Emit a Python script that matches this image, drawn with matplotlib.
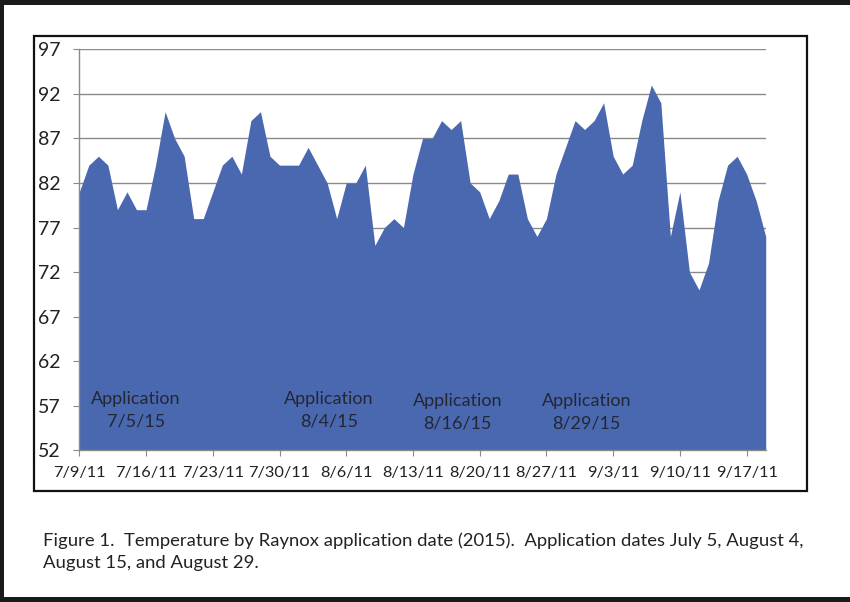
import matplotlib
matplotlib.use("Agg")
import matplotlib.pyplot as plt
from matplotlib.patches import Rectangle

# ---- data ----
temps = [81, 84, 85, 84, 79, 81, 79, 79, 84, 90,
         87, 85, 78, 78, 81, 84, 85, 83, 89, 90,
         85, 84, 84, 84, 86, 84, 82, 78, 82, 82,
         84, 75, 77, 78, 77, 83, 87, 87, 89, 88,
         89, 82, 81, 78, 80, 83, 83, 78, 76, 78,
         83, 86, 89, 88, 89, 91, 85, 83, 84, 89,
         93, 91, 76, 81, 72, 70, 73, 80, 84, 85,
         83, 80, 76]
tick_labels = ["7/9/11", "7/16/11", "7/23/11", "7/30/11", "8/6/11", "8/13/11",
               "8/20/11", "8/27/11", "9/3/11", "9/10/11", "9/17/11"]
y_ticks = [52, 57, 62, 67, 72, 77, 82, 87, 92, 97]
annotations = ["Application\n7/5/15", "Application\n8/4/15",
               "Application\n8/16/15", "Application\n8/29/15"]
annot_x = [5.95, 26.2, 39.7, 53.2]
annot_y = [56.5, 56.55, 56.3, 56.3]
caption = ("Figure 1.  Temperature by Raynox application date (2015).  Application dates July 5, August 4,\n"
           "August 15, and August 29.")

W, H = 850, 602
fig = plt.figure(figsize=(W / 100, H / 100), dpi=100)
plt.rcParams['font.family'] = ['Lato', 'DejaVu Sans']

def fx(px):
    return px / W

def fy(py):
    return 1 - py / H

left, right, top, bottom = 79.3, 765.7, 49.3, 450.3
ax = fig.add_axes([fx(left), fy(bottom), fx(right - left), (bottom - top) / H])

days = list(range(len(temps)))
ax.fill_between(days, 52, temps, color="#4A68B0", linewidth=0, zorder=2)
ax.set_xlim(0, len(temps) - 1)
ax.set_ylim(52, 97)
ax.set_yticks(y_ticks)
ax.set_yticklabels([str(v) for v in y_ticks])
ax.set_xticks(list(range(0, 7 * len(tick_labels), 7)))
ax.set_xticklabels(tick_labels)

gray = "#8a8a8a"
ax.set_axisbelow(True)
ax.grid(axis="y", color=gray, linewidth=1.0)
ax.grid(axis="x", visible=False)
for s in ["top", "right"]:
    ax.spines[s].set_visible(False)
for s in ["left", "bottom"]:
    ax.spines[s].set_color(gray)
    ax.spines[s].set_linewidth(1.0)
ax.tick_params(axis="y", length=4.5, color=gray, labelsize=14, pad=9, labelcolor="#222222")
ax.tick_params(axis="x", length=4.5, color=gray, labelsize=11.8, pad=7, labelcolor="#222222")

for t, x, y in zip(annotations, annot_x, annot_y):
    ax.text(x, y, t, ha="center", va="center", fontsize=13, color="#232733",
            linespacing=1.5, zorder=3)

# chart frame
fig.patches.append(Rectangle((fx(34), fy(491)), fx(806.7 - 34), (491 - 35.7) / H,
                             transform=fig.transFigure, fill=False,
                             edgecolor="#111111", linewidth=1.6))
# outer page borders
fig.patches.append(Rectangle((0, fy(5)), 1, 5 / H, transform=fig.transFigure,
                             color="#1a1a1a", linewidth=0))
fig.patches.append(Rectangle((0, 0), fx(4), 1, transform=fig.transFigure,
                             color="#1a1a1a", linewidth=0))
fig.patches.append(Rectangle((0, 0), 1, 5 / H, transform=fig.transFigure,
                             color="#1a1a1a", linewidth=0))

fig.text(fx(43), fy(532), caption, ha="left", va="top", fontsize=13.3,
         color="#222222", linespacing=1.5)

fig.savefig("out.png", dpi=100)
